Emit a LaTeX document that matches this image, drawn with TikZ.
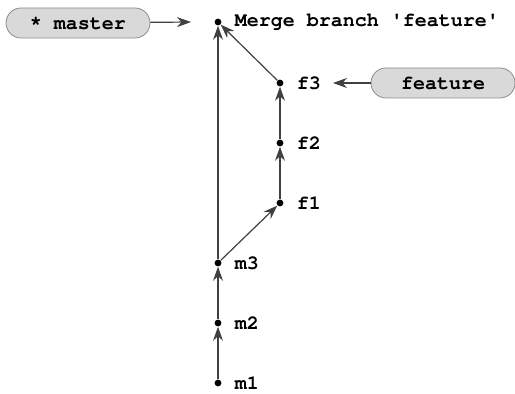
\documentclass[tikz,border=0pt]{standalone}
\usepackage{fontspec}
\setmonofont{TeX Gyre Cursor}
\usetikzlibrary{arrows.meta,positioning}
\begin{document}
\begin{tikzpicture}[x=0.5pt,y=-0.5pt,font=\ttfamily\bfseries,
  commit/.style={circle,fill=black,inner sep=0pt,minimum size=3.4pt},
  branch/.style={draw=black!45,fill=black!15,rounded corners=7.5pt,
    minimum width=72pt,minimum height=15pt,inner sep=0pt},
  parent/.style={-{Stealth[length=7pt,width=5pt]},black!75,line width=0.6pt}]
 \useasboundingbox (0,0) rectangle (515,394);
 % commits
 \node[commit,label={[label distance=3pt]right:m1}] (m1) at (218,383) {};
 \node[commit,label={[label distance=3pt]right:m2}] (m2) at (218,323) {};
 \node[commit,label={[label distance=3pt]right:m3}] (m3) at (218,263) {};
 \node[commit,label={[label distance=3pt]right:f1}] (f1) at (280,203) {};
 \node[commit,label={[label distance=3pt]right:f2}] (f2) at (280,143) {};
 \node[commit,label={[label distance=3pt]right:f3}] (f3) at (280,83) {};
 \node[commit,label={[label distance=3pt]right:Merge branch 'feature'}] (mg) at (218,22) {};
 % history
 \draw[parent] (m1) -- (m2);
 \draw[parent] (m2) -- (m3);
 \draw[parent] (m3) -- (f1);
 \draw[parent] (f1) -- (f2);
 \draw[parent] (f2) -- (f3);
 \draw[parent] (m3) -- (mg);
 \draw[parent] (f3) -- (mg);
 % branch pointers
 \node[branch] (master) at (78,23) {* master};
 \node[branch] (feature) at (443,83) {feature};
 \coordinate (mtip) at (191,22);
 \coordinate (ftip) at (333,83);
 \draw[parent] (master) -- (mtip);
 \draw[parent] (feature) -- (ftip);
\end{tikzpicture}
\end{document}
